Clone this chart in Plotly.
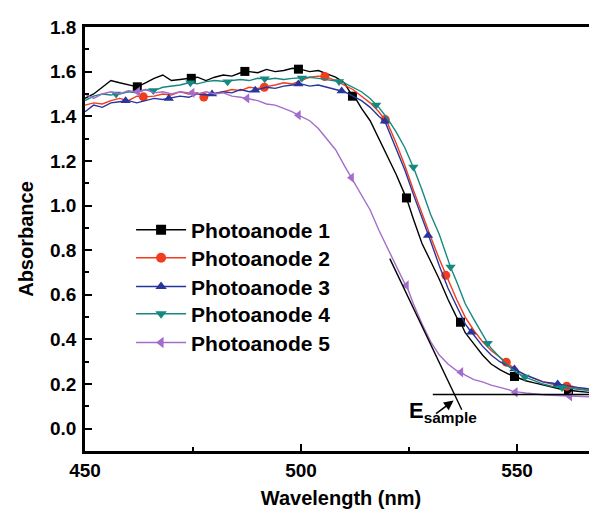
import numpy as np
import plotly.graph_objects as go

# ---------------- data ----------------
WL = [450, 452, 454, 456, 458, 460, 462, 464, 466, 468, 470, 472, 474, 476, 478, 480,
      482, 484, 486, 488, 490, 492, 494, 496, 498, 500, 502, 504, 506, 508, 510, 512,
      514, 516, 518, 520, 522, 524, 526, 528, 530, 532, 534, 536, 538, 540, 542, 544,
      546, 548, 550, 552, 554, 556, 558, 560, 562, 564, 566, 568, 570]

abs_1 = [1.48, 1.50, 1.53, 1.56, 1.55, 1.54, 1.53, 1.55, 1.57, 1.585, 1.56, 1.565, 1.57, 1.575, 1.56, 1.575,
         1.585, 1.58, 1.595, 1.60, 1.595, 1.61, 1.60, 1.605, 1.615, 1.61, 1.60, 1.605, 1.59, 1.575, 1.55, 1.50,
         1.435, 1.38, 1.30, 1.22, 1.14, 1.05, 0.94, 0.83, 0.75, 0.67, 0.58, 0.50, 0.43, 0.38, 0.33, 0.29,
         0.265, 0.245, 0.228, 0.215, 0.205, 0.195, 0.185, 0.178, 0.172, 0.168, 0.163, 0.160, 0.157]

abs_2 = [1.45, 1.46, 1.455, 1.47, 1.48, 1.47, 1.49, 1.487, 1.49, 1.50, 1.495, 1.51, 1.50, 1.505, 1.49, 1.50,
         1.51, 1.52, 1.515, 1.53, 1.525, 1.535, 1.54, 1.55, 1.545, 1.56, 1.575, 1.58, 1.575, 1.56, 1.54, 1.52,
         1.49, 1.46, 1.42, 1.37, 1.28, 1.18, 1.07, 0.96, 0.86, 0.76, 0.67, 0.58, 0.50, 0.44, 0.39, 0.35,
         0.32, 0.29, 0.26, 0.24, 0.225, 0.21, 0.20, 0.193, 0.188, 0.18, 0.175, 0.17, 0.165]

abs_3 = [1.42, 1.45, 1.44, 1.46, 1.465, 1.47, 1.46, 1.47, 1.48, 1.475, 1.48, 1.49, 1.485, 1.50, 1.495, 1.50,
         1.51, 1.505, 1.52, 1.51, 1.52, 1.53, 1.525, 1.535, 1.54, 1.545, 1.535, 1.54, 1.53, 1.52, 1.51, 1.49,
         1.47, 1.44, 1.40, 1.35, 1.26, 1.16, 1.05, 0.94, 0.84, 0.73, 0.63, 0.55, 0.47, 0.42, 0.37, 0.33,
         0.30, 0.28, 0.26, 0.24, 0.225, 0.21, 0.205, 0.198, 0.19, 0.185, 0.18, 0.175, 0.17]

abs_4 = [1.47, 1.49, 1.50, 1.495, 1.50, 1.51, 1.505, 1.52, 1.515, 1.53, 1.535, 1.54, 1.55, 1.545, 1.555, 1.56,
         1.555, 1.56, 1.565, 1.56, 1.57, 1.565, 1.57, 1.565, 1.57, 1.572, 1.575, 1.57, 1.565, 1.56, 1.55, 1.53,
         1.51, 1.48, 1.44, 1.39, 1.33, 1.26, 1.17, 1.07, 0.96, 0.87, 0.75, 0.66, 0.56, 0.49, 0.42, 0.36,
         0.32, 0.28, 0.25, 0.23, 0.215, 0.20, 0.19, 0.185, 0.18, 0.175, 0.17, 0.168, 0.165]

abs_5 = [1.50, 1.48, 1.50, 1.51, 1.50, 1.515, 1.51, 1.52, 1.505, 1.51, 1.50, 1.51, 1.505, 1.50, 1.51, 1.50,
         1.505, 1.49, 1.485, 1.475, 1.47, 1.455, 1.45, 1.435, 1.42, 1.40, 1.38, 1.345, 1.30, 1.25, 1.18, 1.11,
         1.05, 0.98, 0.89, 0.81, 0.73, 0.65, 0.56, 0.47, 0.39, 0.33, 0.29, 0.26, 0.24, 0.22, 0.21, 0.195,
         0.185, 0.175, 0.165, 0.16, 0.155, 0.152, 0.15, 0.148, 0.145, 0.145, 0.143, 0.142, 0.14]

mk_x_1 = [462.1, 474.6, 487.0, 499.4, 511.9, 524.4, 536.9, 549.4, 561.9]
mk_y_1 = [1.532, 1.570, 1.601, 1.611, 1.49, 1.034, 0.477, 0.234, 0.172]
mk_x_2 = [463.5, 477.5, 491.5, 505.5, 519.5, 533.5, 547.5, 561.5]
mk_y_2 = [1.487, 1.486, 1.53, 1.578, 1.385, 0.687, 0.298, 0.19]
mk_x_3 = [459.4, 469.4, 479.4, 489.4, 499.4, 509.4, 519.4, 529.4, 539.4, 549.4, 559.4]
mk_y_3 = [1.47, 1.48, 1.50, 1.517, 1.545, 1.513, 1.378, 0.866, 0.432, 0.268, 0.20]
mk_x_4 = [457.2, 465.8, 474.4, 483.0, 491.6, 500.2, 508.8, 517.4, 526.0, 534.6, 543.2, 551.8, 560.4, 569.0]
mk_y_4 = [1.50, 1.515, 1.55, 1.555, 1.568, 1.572, 1.556, 1.45, 1.173, 0.724, 0.383, 0.232, 0.185, 0.167]
mk_x_5 = [462.2, 474.8, 487.5, 499.4, 511.7, 524.4, 537.0, 549.6, 562.2]
mk_y_5 = [1.51, 1.505, 1.48, 1.405, 1.125, 0.642, 0.253, 0.163, 0.145]

names = ["Photoanode 1", "Photoanode 2", "Photoanode 3", "Photoanode 4", "Photoanode 5"]
colors = ["#000000", "#f23c1e", "#27359c", "#15897f", "#a46dcc"]
symbols = ["square", "circle", "triangle-up", "triangle-down", "triangle-left"]

# tangent and baseline used to find the band edge
tangent_x = [520.55, 537.2]
tangent_y = [0.762, 0.085]
baseline_x = [530.5, 572.0]
baseline_y = [0.153, 0.153]

x_ticks = [450, 500, 550]
y_ticks = [0.0, 0.2, 0.4, 0.6, 0.8, 1.0, 1.2, 1.4, 1.6, 1.8]

series = [(abs_1, mk_x_1, mk_y_1), (abs_2, mk_x_2, mk_y_2), (abs_3, mk_x_3, mk_y_3),
          (abs_4, mk_x_4, mk_y_4), (abs_5, mk_x_5, mk_y_5)]

FONT = "Liberation Sans, Arial, sans-serif"
fig = go.Figure()

for i, (ys, mx, my) in enumerate(series):
    xs_all = np.concatenate([np.array(WL, float), np.array(mx, float)])
    ys_all = np.concatenate([np.array(ys, float), np.array(my, float)])
    order = np.argsort(xs_all, kind="stable")
    fig.add_trace(go.Scatter(x=xs_all[order], y=ys_all[order], mode="lines",
                             line=dict(color=colors[i], width=1.4),
                             showlegend=False, hoverinfo="skip"))
    fig.add_trace(go.Scatter(x=mx, y=my, mode="markers",
                             marker=dict(symbol=symbols[i], color=colors[i], size=9,
                                         line=dict(width=0)),
                             showlegend=False, hoverinfo="skip"))

legend_ids = ["legend", "legend2", "legend3", "legend4", "legend5"]
for i in range(5):
    fig.add_trace(go.Scatter(x=[None], y=[None], mode="lines+markers", name=names[i],
                             line=dict(color=colors[i], width=1.4),
                             marker=dict(symbol=symbols[i], color=colors[i], size=10),
                             legend=legend_ids[i]))

fig.add_trace(go.Scatter(x=tangent_x, y=tangent_y, mode="lines",
                         line=dict(color="black", width=1.4), showlegend=False))
fig.add_trace(go.Scatter(x=baseline_x, y=baseline_y, mode="lines",
                         line=dict(color="black", width=1.6), showlegend=False))

fig.add_annotation(x=535.3, y=0.126, ax=530.9, ay=0.063, xref="x", yref="y",
                   axref="x", ayref="y", showarrow=True, arrowhead=2, arrowsize=1.2,
                   arrowwidth=1.6, arrowcolor="black", text="")
fig.add_annotation(x=532.9, y=0.075, xref="x", yref="y", showarrow=False,
                   text="E<sub>sample</sub>",
                   font=dict(family=FONT, size=22, color="black", weight="bold"))

axis_common = dict(showline=True, linecolor="black", linewidth=2.5, ticks="inside",
                   ticklen=7, tickwidth=2, tickcolor="black", showgrid=False,
                   zeroline=False, automargin=False,
                   tickfont=dict(family=FONT, size=19, color="black", weight="bold"))

fig.update_xaxes(range=[450, 568.5], tickvals=x_ticks, mirror=True,
                 minor=dict(ticks="inside", dtick=25, tick0=450, ticklen=4, tickwidth=2,
                            tickcolor="black"),
                 ticklabelstandoff=0,
                 title=dict(text="Wavelength (nm)", standoff=12,
                            font=dict(family=FONT, size=20, color="black", weight="bold")),
                 **axis_common)
fig.update_yaxes(range=[-0.1, 1.8], tickvals=y_ticks, tickformat=".1f",
                 minor=dict(ticks="inside", dtick=0.1, tick0=0, ticklen=4, tickwidth=2,
                            tickcolor="black"),
                 ticklabelstandoff=2,
                 title=dict(text="Absorbance", standoff=12,
                            font=dict(family=FONT, size=20, color="black", weight="bold")),
                 **axis_common)

# one single-entry legend per series so the rows can be spaced like the original
legend_rows_y = [0.521, 0.455, 0.387, 0.323, 0.255]
legend_layout = {}
for i, lid in enumerate(legend_ids):
    legend_layout[lid] = dict(x=0.09, y=legend_rows_y[i], xanchor="left", yanchor="middle",
                              font=dict(family=FONT, size=21, color="black", weight="bold"),
                              itemwidth=50, bgcolor="rgba(0,0,0,0)")

fig.update_layout(
    width=597, height=521,
    margin=dict(l=77, r=8, t=19, b=78),
    plot_bgcolor="white", paper_bgcolor="white",
    font=dict(family=FONT),
    **legend_layout,
)

fig.write_html("out.html")
